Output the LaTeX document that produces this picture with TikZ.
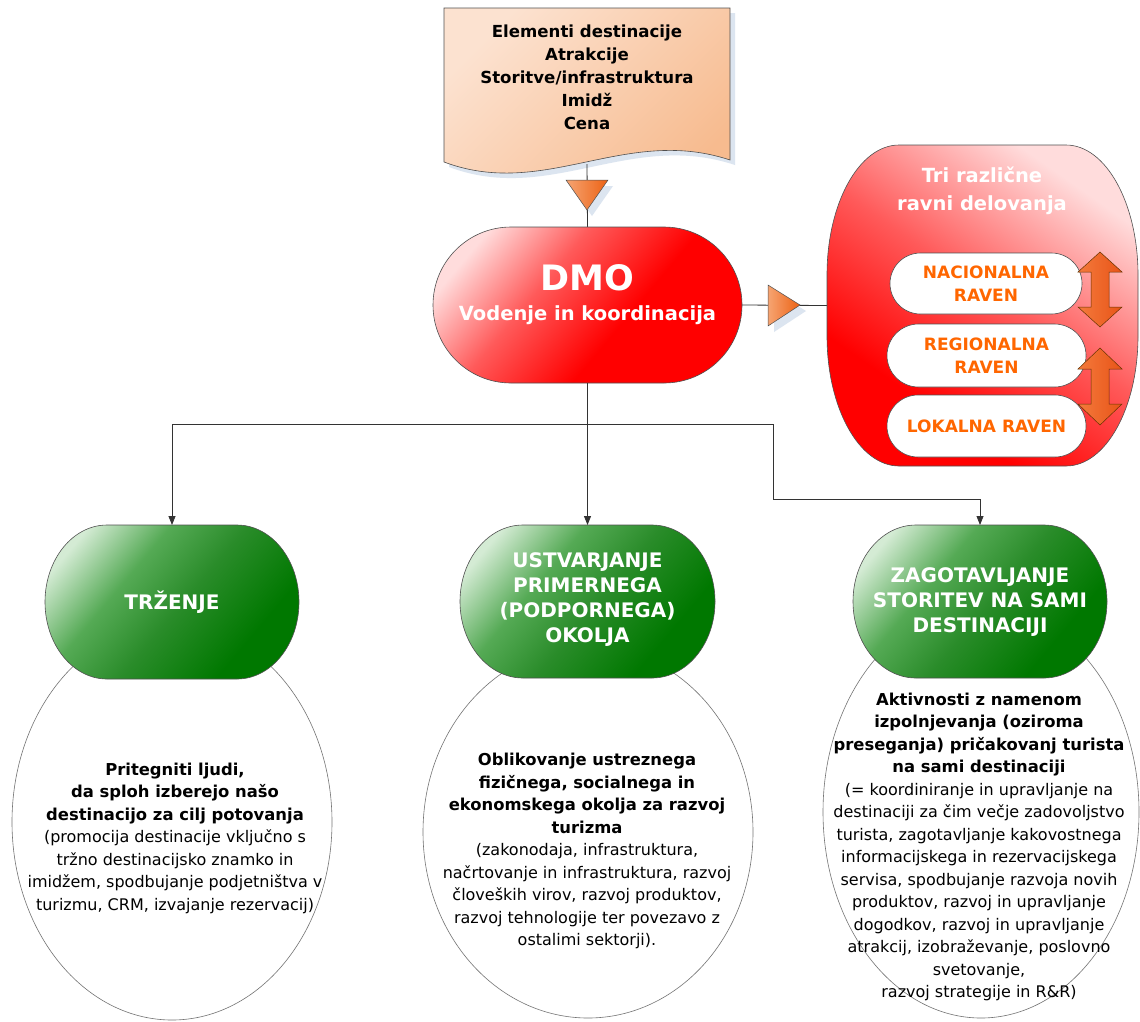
\documentclass[tikz,border=0pt]{standalone}
\usepackage{fontspec}
\setmainfont{DejaVu Sans}
\usetikzlibrary{arrows.meta}

\definecolor{docpeachA}{HTML}{FCE2D0}
\definecolor{docpeachM}{HTML}{F9C6A1}
\definecolor{docpeachB}{HTML}{F7BB8F}
\definecolor{shadowblue}{HTML}{DCE5F0}
\definecolor{trilight}{HTML}{F6A472}
\definecolor{tridark}{HTML}{EC6214}
\definecolor{redfull}{HTML}{FF0000}
\definecolor{redsoft}{HTML}{FF5A5A}
\definecolor{redpale}{HTML}{FFDCDC}
\definecolor{greenlight}{HTML}{D4EBD4}
\definecolor{greensoft}{HTML}{55AA55}
\definecolor{greenmid}{HTML}{2A8C2A}
\definecolor{greendark}{HTML}{007800}
\definecolor{levelorange}{HTML}{FF6600}
\definecolor{arrowlight}{HTML}{F47A3C}
\definecolor{arrowdark}{HTML}{E85418}
\definecolor{outlinegrey}{HTML}{505050}

% colour ramps for the red and green capsules (light end on top)
\pgfdeclareverticalshading{redramp}{100bp}{color(0bp)=(redfull); color(42bp)=(redfull);
  color(60bp)=(redsoft); color(76bp)=(redpale); color(100bp)=(redpale)}
\pgfdeclareverticalshading{panelramp}{100bp}{color(0bp)=(redfull); color(32bp)=(redfull);
  color(52bp)=(redsoft); color(74bp)=(redpale); color(100bp)=(redpale)}
\pgfdeclareverticalshading{greenramp}{100bp}{color(0bp)=(greendark); color(30bp)=(greendark);
  color(48bp)=(greenmid); color(62bp)=(greensoft); color(77bp)=(greenlight); color(100bp)=(greenlight)}

% capsule outline: centre x, centre y, half width, half height, corner x-radius, corner y-radius
\newcommand\capsule[6]{%
 (#1-#3+#5,#2-#4) -- (#1+#3-#5,#2-#4)
 .. controls (#1+#3-0.4477*#5,#2-#4) and (#1+#3,#2-#4+0.4477*#6) .. (#1+#3,#2-#4+#6)
 -- (#1+#3,#2+#4-#6)
 .. controls (#1+#3,#2+#4-0.4477*#6) and (#1+#3-0.4477*#5,#2+#4) .. (#1+#3-#5,#2+#4)
 -- (#1-#3+#5,#2+#4)
 .. controls (#1-#3+0.4477*#5,#2+#4) and (#1-#3,#2+#4-0.4477*#6) .. (#1-#3,#2+#4-#6)
 -- (#1-#3,#2-#4+#6)
 .. controls (#1-#3,#2-#4+0.4477*#6) and (#1-#3+0.4477*#5,#2-#4) .. (#1-#3+#5,#2-#4)
 -- cycle}
% bold heading line inside the description ovals
\newcommand\hd[1]{{\fontsize{16.4}{22.5}\selectfont\bfseries #1}}

\begin{document}
\begin{tikzpicture}[x=1pt,y=-1pt,
  holder/.style={inner sep=0pt, outer sep=0pt},
  link/.style={draw=black!80, line width=0.8pt},
  arrowlink/.style={link, -{Triangle[length=9pt,width=7pt]}},
  shapeline/.style={draw=outlinegrey, line width=0.6pt},
  shadowfill/.style={fill=shadowblue, draw=none},
  docfill/.style={shapeline, top color=docpeachA, middle color=docpeachM, bottom color=docpeachB, shading angle=45},
  trifill/.style={draw=outlinegrey, line width=0.5pt, left color=trilight, right color=tridark},
  dmofill/.style={shapeline, shade, shading=redramp, shading angle=50},
  panelfill/.style={shapeline, shade, shading=panelramp, shading angle=-35},
  pillfill/.style={fill=white, draw=outlinegrey, line width=0.6pt},
  levelarrow/.style={draw=black!60!orange, line width=0.5pt, left color=arrowlight, right color=arrowdark},
  greenfill/.style={shapeline, shade, shading=greenramp, shading angle=50},
  ovalline/.style={fill=white, draw=black!55, line width=0.6pt},
  txt/.style={inner sep=0pt, align=center},
  doctext/.style={txt, font=\fontsize{16.6}{23}\selectfont\bfseries},
  bodytext/.style={txt, font=\fontsize{16}{22.5}\selectfont},
  greentext/.style={txt, text=white, font=\fontsize{20}{25}\selectfont\bfseries},
  leveltext/.style={txt, text=levelorange, font=\fontsize{17}{23}\selectfont\bfseries},
  titletext/.style={txt, text=white, font=\fontsize{19.5}{28}\selectfont\bfseries}
]
\fill[white] (0,0) rectangle (1140,1021);
\useasboundingbox (0,0) rectangle (1140,1021);

% ---------- destination elements (document shape) ----------
\fill[shadowfill] (449,13) -- (735,13) -- (735,165) .. controls (630,130) and (550,205) .. (449,167) -- cycle;
\draw[docfill] (444,8) -- (730,8) -- (730,160) .. controls (625,125) and (545,200) .. (444,162) -- cycle;
\node[holder, minimum width=286pt, minimum height=156pt] (doc) at (587,86) {};
\node[doctext] (doctxt) at (587,77) {Elementi destinacije\\Atrakcije\\Storitve/infrastruktura\\Imidž\\Cena};

% ---------- DMO ----------
\node[holder, minimum width=309pt, minimum height=156pt] (dmo) at (587.5,305) {};
\draw[link] (doc.south) -- (dmo.north);
\fill[shadowfill] (571,186) -- (613,186) -- (592,216) -- cycle;
\draw[trifill] (566,180) -- (608,180) -- (587,210) -- cycle;
\draw[dmofill] \capsule{587.5}{305}{154.5}{78}{78}{78};
\node[txt, text=white, anchor=base, font=\fontsize{35}{35}\selectfont\bfseries] (dmotxt) at (587.5,290) {DMO};
\node[txt, text=white, anchor=base, font=\fontsize{19.5}{22}\selectfont\bfseries] (dmosub) at (587.5,320) {Vodenje in koordinacija};

% ---------- three levels panel ----------
\node[holder, minimum width=311pt, minimum height=321pt] (panel) at (982.5,305.5) {};
\draw[link] (dmo.east) -- (panel.west);
\fill[shadowfill] (774,291) -- (774,332) -- (806,311) -- cycle;
\draw[trifill] (768,285) -- (768,326) -- (800,305) -- cycle;
\draw[panelfill] \capsule{982.5}{305.5}{155.5}{160.5}{72}{130};
\node[titletext] (paneltitle) at (982,191) {Tri različne\\ravni delovanja};

\draw[pillfill] \capsule{986}{283.5}{96}{30.5}{30.5}{30.5};
\node[leveltext] (national) at (986,283.5) {NACIONALNA\\RAVEN};
\draw[pillfill] \capsule{986.5}{355.5}{99.5}{31.5}{31.5}{31.5};
\node[leveltext] (regional) at (986.5,355.5) {REGIONALNA\\RAVEN};
\draw[pillfill] \capsule{986.5}{426}{99.5}{31}{31}{31};
\node[leveltext] (local) at (986.5,426) {LOKALNA RAVEN};

\draw[levelarrow] (1100,252) -- (1122,272) -- (1109,272) -- (1109,307) -- (1122,307) -- (1100,327)
  -- (1078,307) -- (1091,307) -- (1091,272) -- (1078,272) -- cycle;
\draw[levelarrow] (1100,348) -- (1122,369) -- (1109,369) -- (1109,404) -- (1122,404) -- (1100,425)
  -- (1078,404) -- (1091,404) -- (1091,369) -- (1078,369) -- cycle;

% ---------- description ovals ----------
\draw[ovalline] (172,822) ellipse [x radius=160pt, y radius=198pt];
\draw[ovalline] (588,832) ellipse [x radius=165pt, y radius=186pt];
\draw[ovalline] (981,812) ellipse [x radius=158pt, y radius=206pt];

\node[bodytext] (mkttxt) at (175,838) {%
  \hd{Pritegniti ljudi,}\\
  \hd{da sploh izberejo našo}\\
  \hd{destinacijo za cilj potovanja}\\
  (promocija destinacije vključno s\\
  tržno destinacijsko znamko in\\
  imidžem, spodbujanje podjetništva v\\
  turizmu, CRM, izvajanje rezervacij)};

\node[bodytext] (envtxt) at (587,851) {%
  \hd{Oblikovanje ustreznega}\\
  \hd{fizičnega, socialnega in}\\
  \hd{ekonomskega okolja za razvoj}\\
  \hd{turizma}\\
  (zakonodaja, infrastruktura,\\
  načrtovanje in infrastruktura, razvoj\\
  človeških virov, razvoj produktov,\\
  razvoj tehnologije ter povezavo z\\
  ostalimi sektorji).};

\node[bodytext] (srvtxt) at (979,847) {%
  \hd{Aktivnosti z namenom}\\
  \hd{izpolnjevanja (oziroma}\\
  \hd{preseganja) pričakovanj turista}\\
  \hd{na sami destinaciji}\\
  (= koordiniranje in upravljanje na\\
  destinaciji za čim večje zadovoljstvo\\
  turista, zagotavljanje kakovostnega\\
  informacijskega in rezervacijskega\\
  servisa, spodbujanje razvoja novih\\
  produktov, razvoj in upravljanje\\
  dogodkov, razvoj in upravljanje\\
  atrakcij, izobraževanje, poslovno\\
  svetovanje,\\
  razvoj strategije in R\&R)};

% ---------- three fields of activity ----------
\node[holder, minimum width=254pt, minimum height=154pt] (mkt) at (172,602) {};
\node[holder, minimum width=255pt, minimum height=153pt] (env) at (587.5,601.5) {};
\node[holder, minimum width=254pt, minimum height=153pt] (srv) at (980,601.5) {};

\draw[greenfill] \capsule{172}{602}{127}{77}{62}{77};
\draw[greenfill] \capsule{587.5}{601.5}{127.5}{76.5}{63}{76.5};
\draw[greenfill] \capsule{980}{601.5}{127}{76.5}{63}{76.5};

\node[greentext] (mktlabel) at (172,602) {TRŽENJE};
\node[greentext] (envlabel) at (587.5,600) {USTVARJANJE\\PRIMERNEGA\\(PODPORNEGA)\\OKOLJA};
\node[greentext] (srvlabel) at (980,602) {ZAGOTAVLJANJE\\STORITEV NA SAMI\\DESTINACIJI};

% ---------- connectors from the DMO ----------
\coordinate (split) at (587.5,424);
\coordinate (bendA) at (773,424);
\coordinate (bendB) at (773,499);
\draw[arrowlink] (dmo.south) -- (env.north);
\draw[arrowlink] (split) -| (mkt.north);
\draw[arrowlink] (split) -- (bendA) -- (bendB) -| (srv.north);
\end{tikzpicture}
\end{document}
